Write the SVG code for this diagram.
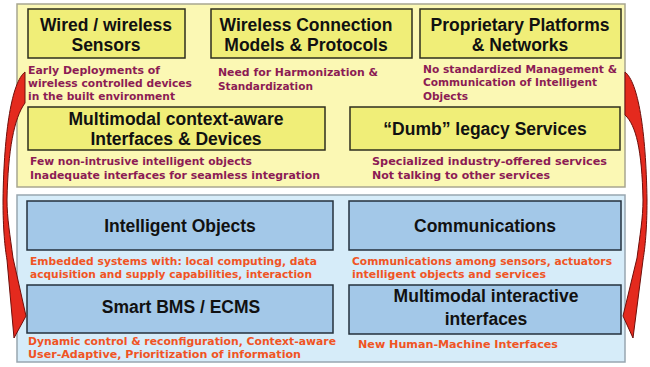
<svg xmlns="http://www.w3.org/2000/svg" width="650" height="367" viewBox="0 0 650 367">
<style>
.panelY{fill:#fbf8b4;stroke:#a8a690;stroke-width:1.5}
.panelB{fill:#d6ecf9;stroke:#98a6b0;stroke-width:1.5}
.boxY{fill:#f0ee78;stroke:#2e2e1e;stroke-width:1.5}
.boxB{fill:#a3c8e8;stroke:#24303c;stroke-width:1.5}
.t{font-family:"Liberation Sans",Arial,sans-serif;font-weight:bold;font-size:17.5px;fill:#111;text-anchor:middle}
.dY{font-family:"DejaVu Sans","Noto Sans",sans-serif;font-weight:bold;font-size:11px;fill:#8c1c54}
.dB{font-family:"DejaVu Sans","Noto Sans",sans-serif;font-weight:bold;font-size:11px;fill:#f05424}
.arrow{fill:#e42a1e;stroke:#6e0e0a;stroke-width:1}
</style>
<rect class="panelY" x="17" y="4" width="608" height="183"/>
<rect class="panelB" x="17" y="195" width="608" height="167"/>

<g id="wired-sensors">
<rect class="boxY" x="28" y="9" width="157" height="49"/>
<text class="t" x="106" y="31">Wired / wireless</text>
<text class="t" x="106" y="51">Sensors</text>
<text class="dY" x="28" y="74" textLength="132" lengthAdjust="spacingAndGlyphs">Early Deployments of</text>
<text class="dY" x="28" y="87" textLength="164" lengthAdjust="spacingAndGlyphs">wireless controlled devices</text>
<text class="dY" x="28" y="100" textLength="147" lengthAdjust="spacingAndGlyphs">in the built environment</text>
</g>
<g id="wireless-connection">
<rect class="boxY" x="211" y="9" width="201" height="49"/>
<text class="t" x="306" y="31">Wireless Connection</text>
<text class="t" x="306" y="51">Models &amp; Protocols</text>
<text class="dY" x="218" y="76" textLength="160" lengthAdjust="spacingAndGlyphs">Need for Harmonization &amp;</text>
<text class="dY" x="218" y="90" textLength="95" lengthAdjust="spacingAndGlyphs">Standardization</text>
</g>
<g id="proprietary-platforms">
<rect class="boxY" x="420" y="9" width="201" height="49"/>
<text class="t" x="520" y="31">Proprietary Platforms</text>
<text class="t" x="520" y="51">&amp; Networks</text>
<text class="dY" x="423" y="73" textLength="194" lengthAdjust="spacingAndGlyphs">No standardized Management &amp;</text>
<text class="dY" x="423" y="86" textLength="174" lengthAdjust="spacingAndGlyphs">Communication of Intelligent</text>
<text class="dY" x="423" y="100" textLength="45" lengthAdjust="spacingAndGlyphs">Objects</text>
</g>
<g id="multimodal-context">
<rect class="boxY" x="28" y="107" width="297" height="43"/>
<text class="t" x="176" y="125">Multimodal context-aware</text>
<text class="t" x="176" y="145">Interfaces &amp; Devices</text>
<text class="dY" x="30" y="165" textLength="222" lengthAdjust="spacingAndGlyphs">Few non-intrusive intelligent objects</text>
<text class="dY" x="30" y="179" textLength="290" lengthAdjust="spacingAndGlyphs">Inadequate interfaces for seamless integration</text>
</g>
<g id="dumb-legacy">
<rect class="boxY" x="350" y="107" width="270" height="43"/>
<text class="t" x="485" y="135">“Dumb” legacy Services</text>
<text class="dY" x="372" y="165" textLength="235" lengthAdjust="spacingAndGlyphs">Specialized industry-offered services</text>
<text class="dY" x="372" y="179" textLength="178" lengthAdjust="spacingAndGlyphs">Not talking to other services</text>
</g>

<g id="intelligent-objects">
<rect class="boxB" x="27" y="201" width="306" height="49"/>
<text class="t" x="180" y="232">Intelligent Objects</text>
<text class="dB" x="30" y="265" textLength="287" lengthAdjust="spacingAndGlyphs">Embedded systems with: local computing, data</text>
<text class="dB" x="30" y="278" textLength="282" lengthAdjust="spacingAndGlyphs">acquisition and supply capabilities, interaction</text>
</g>
<g id="communications">
<rect class="boxB" x="349" y="201" width="272" height="49"/>
<text class="t" x="485" y="232">Communications</text>
<text class="dB" x="352" y="265" textLength="260" lengthAdjust="spacingAndGlyphs">Communications among sensors, actuators</text>
<text class="dB" x="352" y="278" textLength="194" lengthAdjust="spacingAndGlyphs">intelligent objects and services</text>
</g>
<g id="smart-bms">
<rect class="boxB" x="27" y="285" width="306" height="48"/>
<text class="t" x="181" y="313">Smart BMS / ECMS</text>
<text class="dB" x="28" y="345" textLength="308" lengthAdjust="spacingAndGlyphs">Dynamic control &amp; reconfiguration, Context-aware</text>
<text class="dB" x="28" y="358" textLength="273" lengthAdjust="spacingAndGlyphs">User-Adaptive, Prioritization of information</text>
</g>
<g id="multimodal-interactive">
<rect class="boxB" x="349" y="285" width="272" height="49"/>
<text class="t" x="486" y="302">Multimodal interactive</text>
<text class="t" x="486" y="325">interfaces</text>
<text class="dB" x="358" y="348" textLength="200" lengthAdjust="spacingAndGlyphs">New Human-Machine Interfaces</text>
</g>

<g id="connectors">
<path class="arrow" d="M25,72 C12,82 4,130 3,200 C3,230 5,248 7,260 L14,338 L26,316 L13,258 C10,235 7,218 7,200 C8,150 14,118 25,103 Z"/>
<path class="arrow" d="M625,72 C638,82 646,130 647,200 C647,230 645,248 643,260 L633,338 L623,316 L637,258 C640,235 643,218 643,200 C642,150 636,125 625,115 Z"/>
</g>
</svg>
